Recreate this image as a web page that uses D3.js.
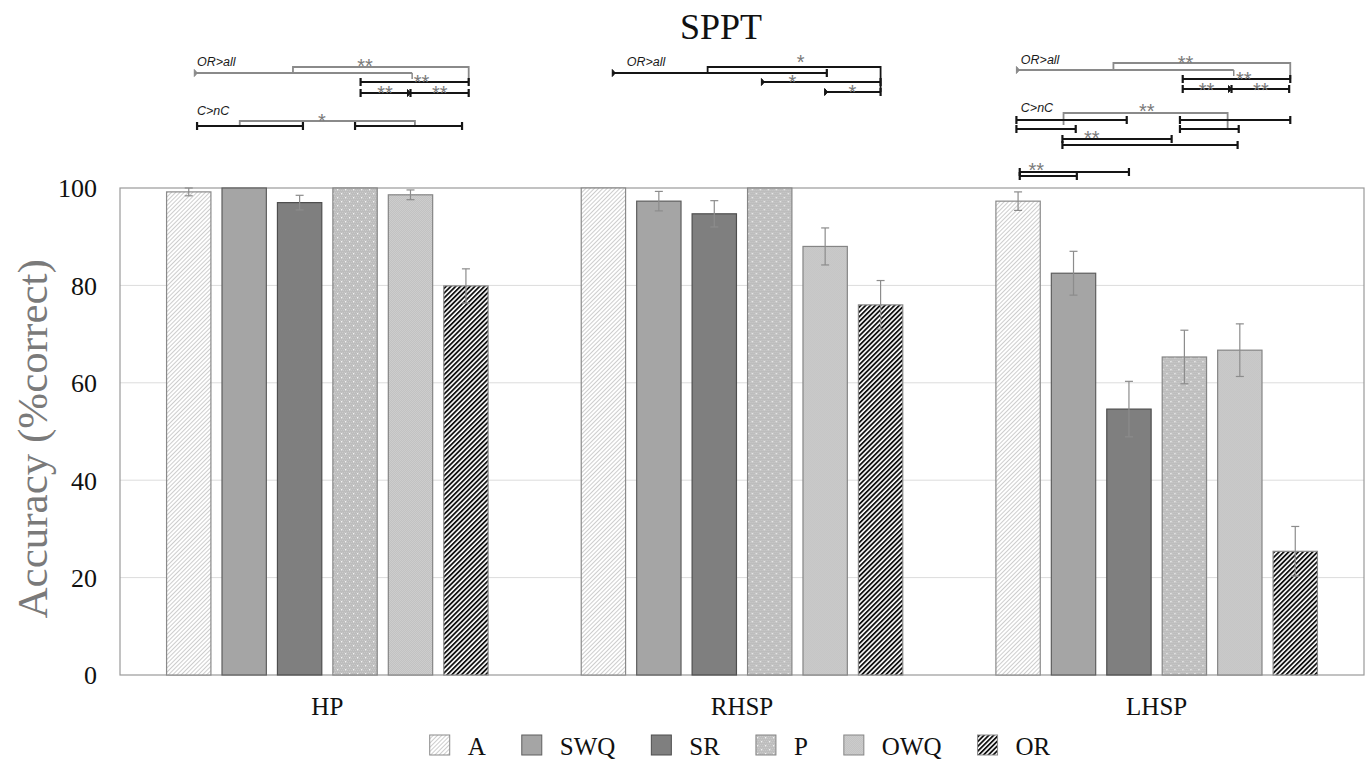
<!DOCTYPE html>
<html>
<head>
<meta charset="utf-8">
<script src="https://cdn.jsdelivr.net/npm/d3@7"></script>
<style>
  body { margin: 0; background: #fff; }
  svg { display: block; }
</style>
</head>
<body>
<script>
// ---- data ----
const groups = ["HP", "RHSP", "LHSP"];
const conditions = ["A", "SWQ", "SR", "P", "OWQ", "OR"];
const yTicks = [0, 20, 40, 60, 80, 100];

// mean accuracy per condition, one value per group (HP, RHSP, LHSP)
const accA   = [99.2, 100, 97.3];
const accSWQ = [100, 97.3, 82.5];
const accSR  = [97.0, 94.7, 54.6];
const accP   = [100, 100, 65.3];
const accOWQ = [98.6, 88.0, 66.7];
const accOR  = [79.9, 76.0, 25.4];

// error bar half-widths
const errA   = [0.8, 0, 1.9];
const errSWQ = [0, 2.0, 4.5];
const errSR  = [1.5, 2.7, 5.7];
const errP   = [0, 0, 5.5];
const errOWQ = [1.0, 3.8, 5.4];
const errOR  = [3.5, 5.0, 5.1];

const accs = [accA, accSWQ, accSR, accP, accOWQ, accOR];
const errs = [errA, errSWQ, errSR, errP, errOWQ, errOR];

// significance annotations: group index, position in bar units, height above plot top (px)
const sigLabels = [
  [0, 0.15, 122, "OR>all"], [0, 0.15, 73, "C>nC"],
  [1, 0.42, 122, "OR>all"],
  [2, 0.05, 124, "OR>all"], [2, 0.05, 76, "C>nC"]
];
// [group, from, to, up, colour, left end, right end, mid arrow]
const sigLines = [
  [0, 0.10, 4.03, 115, "g", "arrow", "drop"],
  [0, 3.10, 5.05, 106, "k", "cap", "cap"],
  [0, 3.10, 5.05, 95, "k", "cap", "cap", 4.0],
  [0, 0.15, 2.06, 62, "k", "cap", "cap"],
  [0, 3.00, 4.93, 62, "k", "cap", "cap"],
  [1, 0.16, 4.03, 115, "k", "arrow", "cap"],
  [1, 2.85, 5.00, 106, "k", "arrow", "cap"],
  [1, 3.99, 5.00, 96, "k", "arrow", "cap"],
  [2, -0.03, 3.89, 118, "g", "arrow", "drop"],
  [2, 2.97, 4.91, 109, "k", "cap", "cap"],
  [2, 2.97, 4.89, 99, "k", "cap", "cap", 3.85],
  [2, -0.03, 1.96, 68, "k", "cap", "cap"],
  [2, 2.92, 4.91, 68, "k", "cap", "cap"],
  [2, -0.03, 1.04, 59, "k", "cap", "cap"],
  [2, 2.92, 3.98, 59, "k", "cap", "cap"],
  [2, 0.80, 2.77, 49, "k", "cap", "cap"],
  [2, 0.80, 3.96, 43, "k", "cap", "cap"],
  [2, 0.03, 2.00, 16, "k", "cap", "cap"],
  [2, 0.03, 1.06, 12, "k", "cap", "cap"]
];
// [group, from, to, top, left leg end, right leg end, colour]
const sigBrackets = [
  [0, 1.88, 5.05, 121, 115, 106, "g"],
  [0, 0.92, 4.08, 67, 62, 62, "g"],
  [1, 1.88, 5.00, 121, 115, 96, "k"],
  [2, 1.72, 4.91, 125, 118, 109, "g"],
  [2, 0.82, 3.78, 75, 63, 60, "g"]
];
// [group, position, centre height, text]
const sigStars = [
  [0, 3.18, 127, "**"], [0, 4.20, 111, "**"], [0, 3.54, 100, "**"], [0, 4.53, 100, "**"], [0, 2.40, 72, "*"],
  [1, 3.56, 131, "*"], [1, 3.41, 111, "*"], [1, 4.49, 101, "*"],
  [2, 3.02, 130, "**"], [2, 4.07, 114, "**"], [2, 3.40, 103, "**"], [2, 4.38, 103, "**"],
  [2, 2.32, 82, "**"], [2, 1.33, 55, "**"], [2, 0.33, 23, "**"]
];

// ---- layout ----
var W = 1369, H = 760;
var margin = {top: 188, right: 5, bottom: 85, left: 120},
    width = W - margin.left - margin.right,
    height = H - margin.top - margin.bottom;

var serif = "'Liberation Serif', 'Times New Roman', serif";
var sans = "'Liberation Sans', Arial, sans-serif";

var svg = d3.select("body").append("svg")
    .attr("width", W)
    .attr("height", H);

var defs = svg.append("defs");

function stripes(id, size, bg, fg, sw) {
  var p = defs.append("pattern").attr("id", id)
      .attr("patternUnits", "userSpaceOnUse")
      .attr("width", size).attr("height", size)
      .attr("patternTransform", "rotate(45)");
  p.append("rect").attr("width", size).attr("height", size).attr("fill", bg);
  p.append("rect").attr("width", sw).attr("height", size).attr("fill", fg);
}
stripes("pA", 3, "#fff", "#cdcdcd", 1);
stripes("pOR", 3.4, "#fff", "#111", 1.8);

// fine checker
function checker(id, a, b) {
  var p = defs.append("pattern").attr("id", id)
      .attr("patternUnits", "userSpaceOnUse")
      .attr("width", 2).attr("height", 2);
  p.append("rect").attr("width", 2).attr("height", 2).attr("fill", a);
  p.append("rect").attr("width", 1).attr("height", 1).attr("fill", b);
  p.append("rect").attr("x", 1).attr("y", 1).attr("width", 1).attr("height", 1).attr("fill", b);
}
checker("pOWQ", "#c2c2c2", "#cdcdcd");

// dotted (P)
(function() {
  var p = defs.append("pattern").attr("id", "pP")
      .attr("patternUnits", "userSpaceOnUse")
      .attr("width", 8).attr("height", 8);
  p.append("rect").attr("width", 8).attr("height", 8).attr("fill", "#bdbdbd");
  for (var i = 0; i < 8; i += 2)
    for (var j = (i / 2) % 2; j < 8; j += 2)
      p.append("rect").attr("x", j).attr("y", i).attr("width", 1).attr("height", 1).attr("fill", "#c9c9c9");
  p.append("rect").attr("x", 1).attr("y", 1).attr("width", 1.3).attr("height", 1.3).attr("fill", "#f4f4f4");
  p.append("rect").attr("x", 5).attr("y", 5).attr("width", 1.3).attr("height", 1.3).attr("fill", "#f4f4f4");
})();

var fills = {A: "url(#pA)", SWQ: "#a5a5a5", SR: "#7f7f7f", P: "url(#pP)", OWQ: "url(#pOWQ)", OR: "url(#pOR)"};
var strokes = {A: "#8a8a8a", SWQ: "#5e5e5e", SR: "#4e4e4e", P: "#858585", OWQ: "#858585", OR: "#8a8a8a"};

// ---- scales ----
var x0 = d3.scaleBand().domain(groups).range([0, width]);
var x1 = d3.scaleBand().domain(conditions).range([0, x0.bandwidth()])
    .paddingInner(0.2).paddingOuter(0.84);
var y = d3.scaleLinear().domain([0, 100]).range([height, 0]);

var g = svg.append("g")
    .attr("transform", "translate(" + margin.left + "," + margin.top + ")");

// gridlines
g.append("g").selectAll("line")
    .data(yTicks.filter(function(t) { return t > 0 && t < 100; }))
  .enter().append("line")
    .attr("x1", 0).attr("x2", width)
    .attr("y1", function(d) { return y(d); })
    .attr("y2", function(d) { return y(d); })
    .attr("stroke", "#dcdcdc").attr("stroke-width", 1);

// plot frame
g.append("rect")
    .attr("x", 0).attr("y", 0).attr("width", width).attr("height", height)
    .attr("fill", "none").attr("stroke", "#9a9a9a").attr("stroke-width", 1.2);

// bars
var rows = [];
groups.forEach(function(grp, gi) {
  conditions.forEach(function(c, ci) {
    rows.push({group: grp, cond: c, value: accs[ci][gi], err: errs[ci][gi]});
  });
});

var bars = g.append("g").selectAll("g")
    .data(rows)
  .enter().append("g")
    .attr("transform", function(d) { return "translate(" + x0(d.group) + ",0)"; });

bars.append("rect")
    .attr("x", function(d) { return x1(d.cond); })
    .attr("y", function(d) { return y(d.value); })
    .attr("width", x1.bandwidth())
    .attr("height", function(d) { return height - y(d.value); })
    .attr("fill", function(d) { return fills[d.cond]; })
    .attr("stroke", function(d) { return strokes[d.cond]; })
    .attr("stroke-width", 1.2);

// error bars
var eb = bars.filter(function(d) { return d.err > 0; });
var cx = function(d) { return x1(d.cond) + x1.bandwidth() / 2; };
eb.append("line")
    .attr("x1", cx).attr("x2", cx)
    .attr("y1", function(d) { return y(d.value + d.err); })
    .attr("y2", function(d) { return y(d.value - d.err); })
    .attr("stroke", "#8c8c8c").attr("stroke-width", 1.2);
[1, -1].forEach(function(s) {
  eb.append("line")
      .attr("x1", function(d) { return cx(d) - 4; })
      .attr("x2", function(d) { return cx(d) + 4; })
      .attr("y1", function(d) { return y(d.value + s * d.err); })
      .attr("y2", function(d) { return y(d.value + s * d.err); })
      .attr("stroke", "#8c8c8c").attr("stroke-width", 1.2);
});

// y axis labels
g.append("g").selectAll("text")
    .data(yTicks)
  .enter().append("text")
    .attr("x", -23)
    .attr("y", function(d) { return y(d); })
    .attr("dy", "0.36em")
    .attr("text-anchor", "end")
    .attr("font-family", serif).attr("font-size", 26).attr("fill", "#111")
    .text(function(d) { return d; });

// x axis labels
g.append("g").selectAll("text")
    .data(groups)
  .enter().append("text")
    .attr("x", function(d) { return x0(d) + x0.bandwidth() / 2; })
    .attr("y", height + 40)
    .attr("text-anchor", "middle")
    .attr("font-family", serif).attr("font-size", 25).attr("fill", "#111")
    .text(function(d) { return d; });

// y title
svg.append("text")
    .attr("transform", "translate(47," + (margin.top + height * 0.515) + ") rotate(-90)")
    .attr("text-anchor", "middle")
    .attr("font-family", serif).attr("font-size", 43).attr("fill", "#7a7a7a")
    .text("Accuracy (%correct)");

// title
svg.append("text")
    .attr("x", margin.left + width / 2 - 21).attr("y", 39)
    .attr("text-anchor", "middle")
    .attr("font-family", serif).attr("font-size", 36).attr("fill", "#111")
    .text("SPPT");

// ---- significance annotations ----
function px(gi, i) {
  return x0(groups[gi]) + x1(conditions[0]) + x1.bandwidth() / 2 + i * x1.step();
}
function py(up) { return -up; }
var col = {g: "#8a8a8a", k: "#151515"};
var ann = g.append("g");

sigBrackets.forEach(function(b) {
  var xa = px(b[0], b[1]), xb = px(b[0], b[2]);
  ann.append("path")
      .attr("d", "M" + xa + "," + py(b[4]) + "V" + py(b[3]) + "H" + xb + "V" + py(b[5]))
      .attr("fill", "none").attr("stroke", col[b[6]]).attr("stroke-width", 1.8);
});

function end(xe, ye, kind, c, dir) {
  if (kind === "cap") {
    ann.append("line").attr("x1", xe).attr("x2", xe).attr("y1", ye - 4).attr("y2", ye + 4)
        .attr("stroke", c).attr("stroke-width", 2.2);
  } else if (kind === "arrow") {
    ann.append("path")
        .attr("d", "M" + xe + "," + (ye - 3.5) + "L" + (xe + 3 * dir) + "," + ye + "L" + xe + "," + (ye + 3.5) + "Z")
        .attr("fill", c).attr("stroke", c).attr("stroke-width", 1);
  } else if (kind === "drop") {
    ann.append("line").attr("x1", xe).attr("x2", xe).attr("y1", ye).attr("y2", ye + 6)
        .attr("stroke", c).attr("stroke-width", 1.5);
  }
}

sigLines.forEach(function(l) {
  var xa = px(l[0], l[1]), xb = px(l[0], l[2]), yy = py(l[3]), c = col[l[4]];
  ann.append("line").attr("x1", xa).attr("x2", xb).attr("y1", yy).attr("y2", yy)
      .attr("stroke", c).attr("stroke-width", l[4] === "k" ? 2 : 1.8);
  end(xa, yy, l[5], c, 1);
  end(xb, yy, l[6], c, -1);
  if (l[7] !== undefined) {
    var xm = px(l[0], l[7]);
    ann.append("path")
        .attr("d", "M" + (xm - 3) + "," + (yy - 3.5) + "L" + xm + "," + yy + "L" + (xm - 3) + "," + (yy + 3.5) + "Z")
        .attr("fill", c).attr("stroke", c);
    end(xm, yy, "cap", c);
  }
});

ann.selectAll("text.lab")
    .data(sigLabels)
  .enter().append("text")
    .attr("class", "lab")
    .attr("x", function(d) { return px(d[0], d[1]); })
    .attr("y", function(d) { return py(d[2]); })
    .attr("font-family", sans).attr("font-style", "italic")
    .attr("font-size", 12.5).attr("fill", "#1a1a1a")
    .text(function(d) { return d[3]; });

ann.selectAll("text.star")
    .data(sigStars)
  .enter().append("text")
    .attr("class", "star")
    .attr("x", function(d) { return px(d[0], d[1]); })
    .attr("y", function(d) { return py(d[2]) + 11.5; })
    .attr("text-anchor", "middle")
    .attr("font-family", sans).attr("font-size", 20).attr("fill", "#7a7a7a")
    .text(function(d) { return d[3]; });

// ---- legend ----
var legend = svg.append("g");
var lx = 0;
conditions.forEach(function(c, i) {
  var item = legend.append("g").attr("transform", "translate(" + lx + ",0)");
  item.append("rect").attr("x", 0).attr("y", 735).attr("width", 20).attr("height", 20)
      .attr("fill", fills[c]).attr("stroke", strokes[c]).attr("stroke-width", 1);
  var t = item.append("text").attr("x", 38).attr("y", 755)
      .attr("font-family", serif).attr("font-size", 25).attr("fill", "#111")
      .text(c);
  lx += 38 + t.node().getComputedTextLength() + 36;
});
lx -= 36;
legend.attr("transform", "translate(" + (740 - lx / 2) + ",0)");
</script>
</body>
</html>
